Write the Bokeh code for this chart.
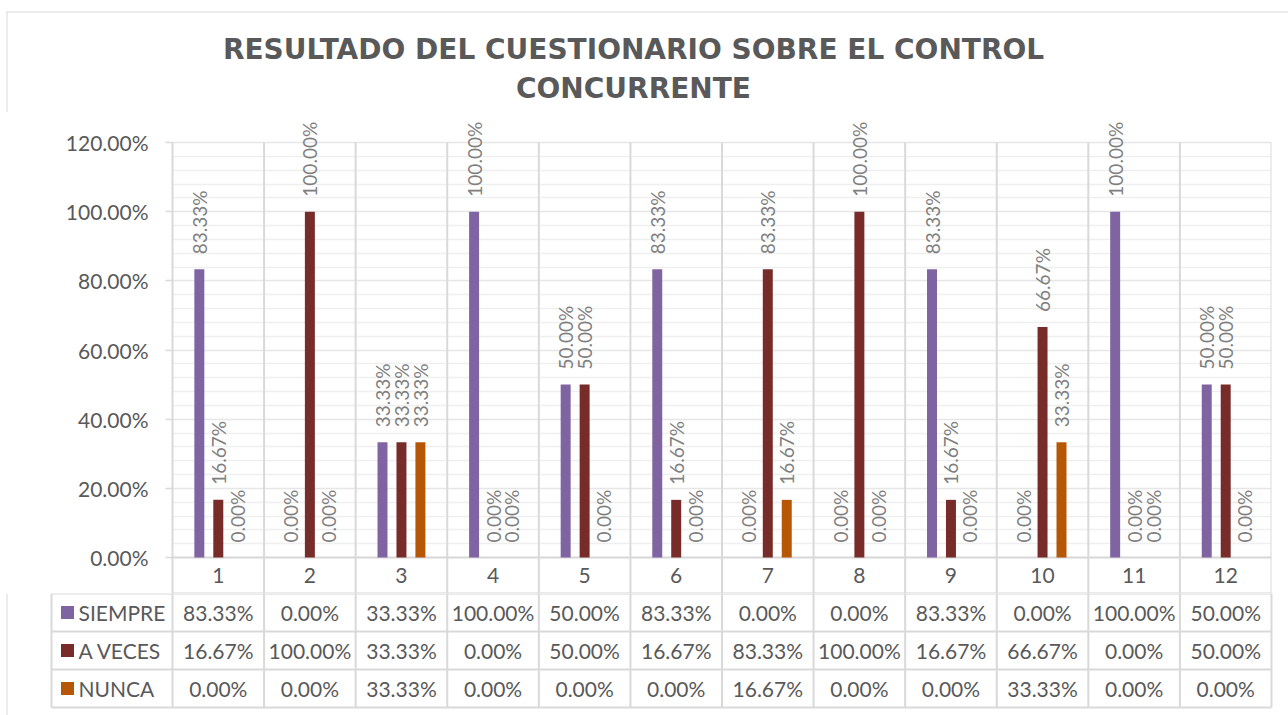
import numpy as np
from bokeh.plotting import figure
from bokeh.models import Range1d, ColumnDataSource, FixedTicker, NumeralTickFormatter, Span
from bokeh.core.properties import value
from bokeh.embed import file_html
from bokeh.resources import INLINE

# ---------------- data ----------------
categories = ["1", "2", "3", "4", "5", "6", "7", "8", "9", "10", "11", "12"]
series_names = ["SIEMPRE", "A VECES", "NUNCA"]
siempre = [83.33, 0.00, 33.33, 100.00, 50.00, 83.33, 0.00, 0.00, 83.33, 0.00, 100.00, 50.00]
a_veces = [16.67, 100.00, 33.33, 0.00, 50.00, 16.67, 83.33, 100.00, 16.67, 66.67, 0.00, 50.00]
nunca = [0.00, 0.00, 33.33, 0.00, 0.00, 0.00, 16.67, 0.00, 0.00, 33.33, 0.00, 0.00]
y_ticks = [0.0, 0.2, 0.4, 0.6, 0.8, 1.0, 1.2]
title_lines = ["RESULTADO DEL CUESTIONARIO SOBRE EL CONTROL", "CONCURRENTE"]

series_values = [siempre, a_veces, nunca]
colors = ["#8064A2", "#772C2A", "#B65708"]
offsets = [-0.207, 0.0, 0.207]

W = 1288
GRID = "#d9d9d9"
TXT = "#595959"
FONT = value("Lato")
n = len(categories)

# layout constants (pixels)
FRAME_L, FRAME_R = 172, 1271
Y0_PX, Y120_PX = 557, 142
CAT_ROW_BOTTOM = 593
TITLE_H = 112
BORDER_X = 6.5
cat_px = (FRAME_R - FRAME_L) / n
px_per_unit = (Y0_PX - Y120_PX) / y_ticks[-1]

# ---------------- title figure ----------------
tf = figure(width=W, height=TITLE_H, x_range=Range1d(0, W), y_range=Range1d(TITLE_H, 0),
            output_backend="svg", toolbar_location=None, min_border=0)
tf.axis.visible = False
tf.grid.visible = False
tf.outline_line_color = None
tf.text(x=[633, 633], y=[49, 88], text=title_lines, text_font=value("DejaVu Sans"),
        text_font_style="bold", text_font_size="28px", text_color=TXT,
        text_align="center", text_baseline="middle")
tf.segment(x0=[6, BORDER_X], y0=[11.5, 11], x1=[W, BORDER_X], y1=[11.5, TITLE_H],
           line_color=GRID, line_width=1)

# ---------------- chart figure (value area + category row) ----------------
chart_h = CAT_ROW_BOTTOM - TITLE_H
y_top = (Y0_PX - TITLE_H) / px_per_unit
y_bot = -(CAT_ROW_BOTTOM - Y0_PX) / px_per_unit
p = figure(width=W, height=chart_h, x_range=Range1d(0, n), y_range=Range1d(y_bot, y_top),
           output_backend="svg", toolbar_location=None,
           min_border_left=FRAME_L, min_border_right=W - FRAME_R,
           min_border_top=0, min_border_bottom=0)
p.outline_line_color = None
p.xaxis.visible = False

minor = [round(i * 0.04, 2) for i in range(31) if i % 5 != 0]
p.yaxis.ticker = FixedTicker(ticks=y_ticks)
p.yaxis.bounds = (y_bot, y_ticks[-1])
p.yaxis.formatter = NumeralTickFormatter(format="0.00%")
p.yaxis.axis_line_color = GRID
p.yaxis.axis_line_width = 2
p.yaxis.major_tick_line_color = GRID
p.yaxis.major_tick_line_width = 1.5
p.yaxis.major_tick_out = 7
p.yaxis.major_tick_in = 0
p.yaxis.minor_tick_line_color = None
p.yaxis.major_label_standoff = 17
p.yaxis.major_label_text_font = "Lato"
p.yaxis.major_label_text_font_size = "21px"
p.yaxis.major_label_text_color = TXT

p.ygrid.ticker = FixedTicker(ticks=y_ticks, minor_ticks=minor)
p.ygrid.grid_line_color = "#e6e6e6"
p.ygrid.grid_line_width = 1.5
p.ygrid.minor_grid_line_color = "#efefef"
p.ygrid.minor_grid_line_width = 1.5
p.xgrid.visible = False

# outer chart border (left side), frame-relative screen position
p.add_layout(Span(location=-(FRAME_L - BORDER_X), location_units="screen",
                  dimension="height", line_color=GRID, line_width=1))

# vertical category separators and table top / category-row rules
p.segment(x0=list(range(1, n + 1)), y0=[y_bot] * n, x1=list(range(1, n + 1)),
          y1=[y_ticks[-1]] * n, line_color=GRID, line_width=2)
p.segment(x0=[0, 0], y0=[0, y_bot], x1=[n, n], y1=[0, y_bot], line_color=GRID, line_width=2)
p.text(x=list(np.arange(n) + 0.5), y=[y_bot / 2] * n, text=categories, text_font=FONT,
       text_font_size="21px", text_color=TXT, text_align="center", text_baseline="middle")

for vals, col, off in zip(series_values, colors, offsets):
    src = ColumnDataSource(dict(
        x=list(np.arange(n) + 0.5 + off),
        top=[v / 100 for v in vals],
        label=[f"{v:.2f}%" for v in vals],
    ))
    p.vbar(x="x", top="top", width=0.109, bottom=0, fill_color=col, line_color=None, source=src)
    p.text(x="x", y="top", text="label", angle=np.pi / 2, text_align="left",
           text_baseline="middle", y_offset=-15, text_font=FONT, text_font_size="19px",
           text_color="#7f7f7f", source=src)

# ---------------- data table figure (series rows) ----------------
TABLE_H = 715 - CAT_ROW_BOTTOM
row_px = 38
left_units = FRAME_L / cat_px
right_units = n + (W - FRAME_R) / cat_px
y_bottom = 3 - TABLE_H / row_px
tb = figure(width=W, height=TABLE_H, x_range=Range1d(-left_units, right_units),
            y_range=Range1d(y_bottom, 3), output_backend="svg", toolbar_location=None,
            min_border=0)
tb.axis.visible = False
tb.grid.visible = False
tb.outline_line_color = None

leg_l = -(FRAME_L - 51) / cat_px
tb.segment(x0=[leg_l] * 4, y0=[3, 2, 1, 0], x1=[n] * 4, y1=[3, 2, 1, 0],
           line_color=GRID, line_width=2)
tb.segment(x0=list(range(0, n + 1)) + [leg_l], y0=[0] * (n + 2),
           x1=list(range(0, n + 1)) + [leg_l], y1=[3] * (n + 2),
           line_color=GRID, line_width=2)
bx = -(FRAME_L - BORDER_X) / cat_px
tb.segment(x0=[bx], y0=[y_bottom], x1=[bx], y1=[3], line_color=GRID, line_width=1)

cx = list(np.arange(n) + 0.5)
for r, (name, vals, col) in enumerate(zip(series_names, series_values, colors)):
    yy = 2.5 - r
    tb.text(x=cx, y=[yy] * n, text=[f"{v:.2f}%" for v in vals], text_font=FONT,
            text_font_size="21px", text_color=TXT, text_align="center", text_baseline="middle")
    tb.scatter(x=[leg_l + 16 / cat_px], y=[yy], marker="square", size=13,
               fill_color=col, line_color=None)
    tb.text(x=[leg_l + 27 / cat_px], y=[yy], text=[name], text_font=FONT,
            text_font_size="21px", text_color=TXT, text_align="left", text_baseline="middle")

html = file_html([tf, p, tb], INLINE)
open("out.html", "w").write(html)
